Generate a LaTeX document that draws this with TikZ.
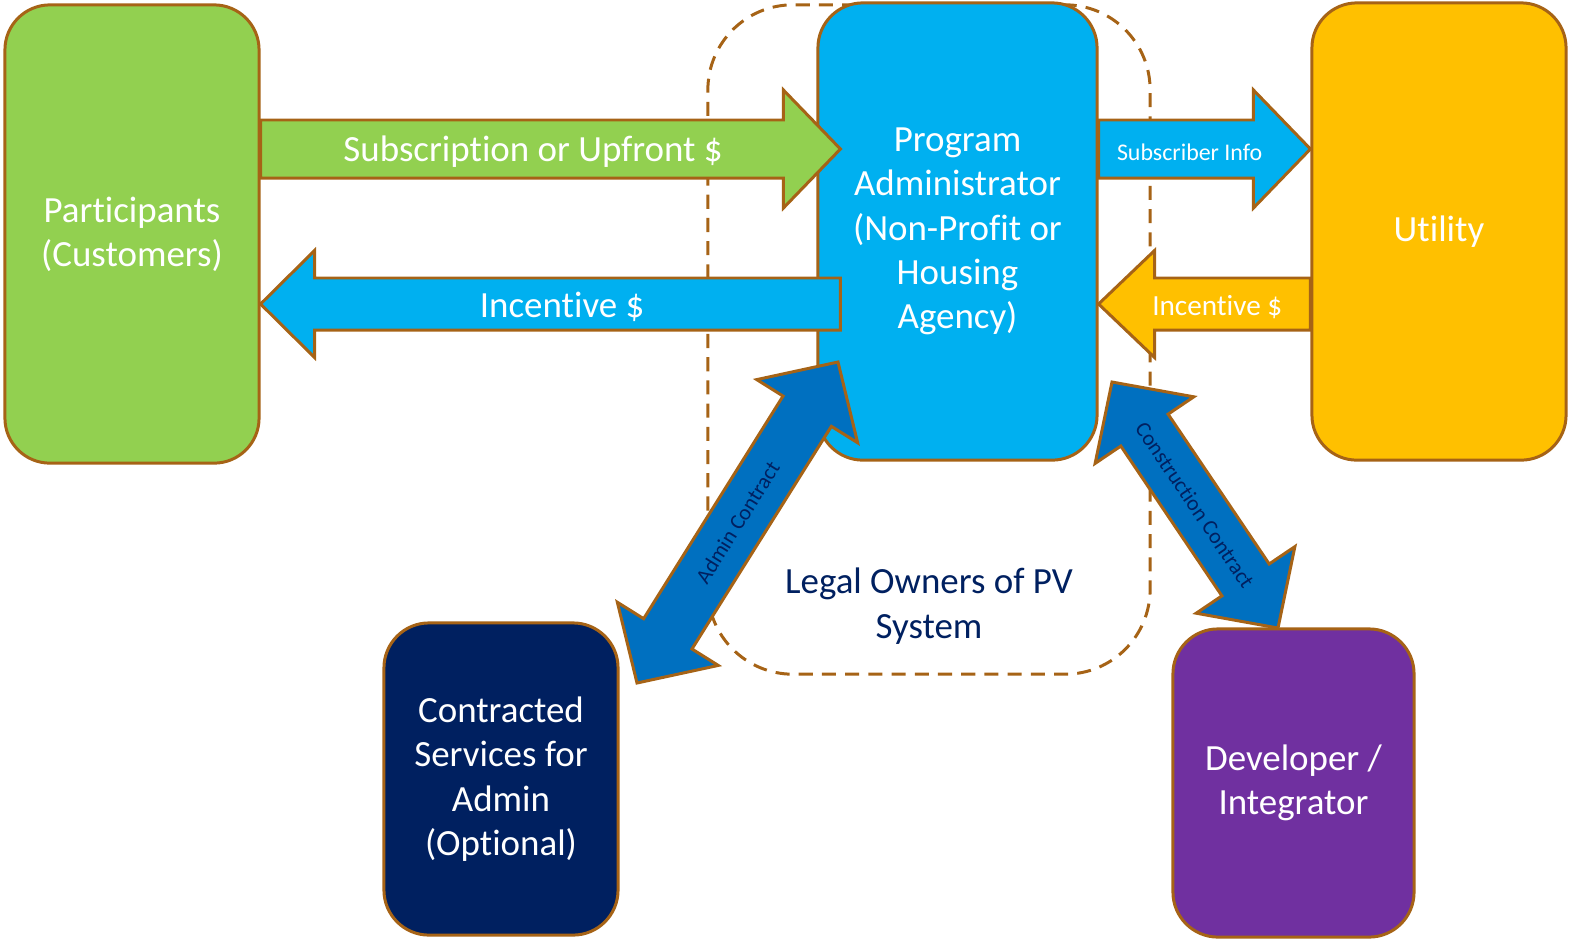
\documentclass[tikz,border=0pt]{standalone}
\usepackage{fontspec}
\setmainfont{Carlito}[Ligatures=NoCommon]
\usetikzlibrary{positioning, calc}
\definecolor{edge}{HTML}{A66316}
\definecolor{partgreen}{HTML}{92D050}
\definecolor{adminblue}{HTML}{00B0F0}
\definecolor{utilyellow}{HTML}{FFC000}
\definecolor{servnavy}{HTML}{002060}
\definecolor{devpurple}{HTML}{7030A0}
\definecolor{contractblue}{HTML}{0070C0}
\tikzset{
	box/.style={rectangle, rounded corners=0.45cm, draw=edge, line width=0.85pt, text=white, align=center, font=\fontsize{10.5}{12.6}\selectfont}, % the five parties
	owners/.style={rectangle, rounded corners=0.85cm, draw=edge, line width=0.85pt, dash pattern=on 4pt off 2.6pt, minimum width=4.42cm, minimum height=6.69cm}, % the dashed group
	legal/.style={text=servnavy, align=center, inner sep=0pt, font=\fontsize{10.5}{12.6}\selectfont},
	flow/.style={draw=edge, line width=0.85pt, line join=miter}, % every block arrow
	flowtext/.style={text=white, inner sep=0pt, yshift=-0.03cm},
	contracttext/.style={text=servnavy, inner sep=0pt, sloped, font=\fontsize{6.2}{7}\selectfont},
}
% block arrow with one head: style, from, to, half shaft, half head, head length
\newcommand{\arrowone}[6]{%
	\coordinate (hb) at ($(#3)!#6!(#2)$);
	\draw[flow, #1] ($(#2)!#4!90:(#3)$) -- ($(hb)!#4!90:(#3)$) -- ($(hb)!#5!90:(#3)$) -- (#3)
		-- ($(hb)!#5!-90:(#3)$) -- ($(hb)!#4!-90:(#3)$) -- ($(#2)!#4!-90:(#3)$) -- cycle;
}
% block arrow with two heads
\newcommand{\arrowtwo}[6]{%
	\coordinate (ha) at ($(#2)!#6!(#3)$);
	\coordinate (hb) at ($(#3)!#6!(#2)$);
	\draw[flow, #1] (#2) -- ($(ha)!#5!90:(#3)$) -- ($(ha)!#4!90:(#3)$) -- ($(hb)!#4!90:(#3)$) -- ($(hb)!#5!90:(#3)$) -- (#3)
		-- ($(hb)!#5!-90:(#3)$) -- ($(hb)!#4!-90:(#3)$) -- ($(ha)!#4!-90:(#3)$) -- ($(ha)!#5!-90:(#3)$) -- cycle;
}

\begin{document}
\begin{tikzpicture}[x=0.01cm, y=-0.01cm]
	\useasboundingbox (0,0) rectangle (1572,941);
	% the legal owners sit behind everything
	\node[owners] (Owners) at (929,339.5) {};
	\node[legal, above=0.31cm of Owners.south] (Legal) {Legal Owners of PV\\System};

	% the parties
	\node[box, fill=partgreen, minimum width=2.54cm, minimum height=4.58cm] (Participants) at (132,234) {Participants\\(Customers)};
	\node[box, fill=adminblue, minimum width=2.79cm, minimum height=4.57cm] (Administrator) at (957.5,231.5) {Program\\Administrator\\(Non-Profit or\\Housing\\Agency)};
	\node[box, fill=utilyellow, minimum width=2.54cm, minimum height=4.57cm] (Utility) at (1439,231.5) {Utility};
	\node[box, fill=servnavy, minimum width=2.34cm, minimum height=3.12cm] (Services) at (501,779) {Contracted\\Services for\\Admin\\(Optional)};
	\node[box, fill=devpurple, minimum width=2.41cm, minimum height=3.08cm] (Developer) at (1293.5,783) {Developer /\\Integrator};

	%% ends of the arrows
	\coordinate (PayFrom) at (Participants.east |- 0,149);
	\coordinate (PayTo) at ($(Administrator.west |- 0,149)+(24,0)$);
	\coordinate (IncFrom) at ($(Administrator.west |- 0,304)+(24,0)$);
	\coordinate (IncTo) at (Participants.east |- 0,304);
	\coordinate (InfoFrom) at (Administrator.east |- 0,149);
	\coordinate (InfoTo) at (Utility.west |- 0,149);
	\coordinate (UtilFrom) at (Utility.west |- 0,304);
	\coordinate (UtilTo) at (Administrator.east |- 0,304);
	\coordinate (AdmLow) at (637,683);
	\coordinate (AdmHigh) at (838,362);
	\coordinate (ConHigh) at (1112,382);
	\coordinate (ConLow) at (1278,628);

	%% money and information
	\arrowone{fill=partgreen}{PayFrom}{PayTo}{0.29cm}{0.59cm}{0.57cm}
	\path (PayFrom) -- (PayTo) node[flowtext, pos=0.47, font=\fontsize{10.5}{12.6}\selectfont] {Subscription or Upfront \$};
	\arrowone{fill=adminblue}{IncFrom}{IncTo}{0.26cm}{0.535cm}{0.54cm}
	\path (IncFrom) -- (IncTo) node[flowtext, pos=0.48, font=\fontsize{10.5}{12.6}\selectfont] {Incentive \$};
	\arrowone{fill=adminblue}{InfoFrom}{InfoTo}{0.29cm}{0.59cm}{0.57cm}
	\path (InfoFrom) -- (InfoTo) node[flowtext, pos=0.43, font=\fontsize{6.8}{8}\selectfont] {Subscriber Info};
	\arrowone{fill=utilyellow}{UtilFrom}{UtilTo}{0.26cm}{0.535cm}{0.56cm}
	\path (UtilFrom) -- (UtilTo) node[flowtext, pos=0.44, font=\fontsize{8.3}{10}\selectfont] {Incentive \$};

	%% the contracts
	\arrowtwo{fill=contractblue}{AdmLow}{AdmHigh}{0.285cm}{0.595cm}{0.58cm}
	\path (AdmLow) -- (AdmHigh) node[contracttext, midway] {Admin Contract};
	\arrowtwo{fill=contractblue}{ConHigh}{ConLow}{0.285cm}{0.595cm}{0.58cm}
	\path (ConHigh) -- (ConLow) node[contracttext, midway] {Construction Contract};
\end{tikzpicture}
\end{document}
